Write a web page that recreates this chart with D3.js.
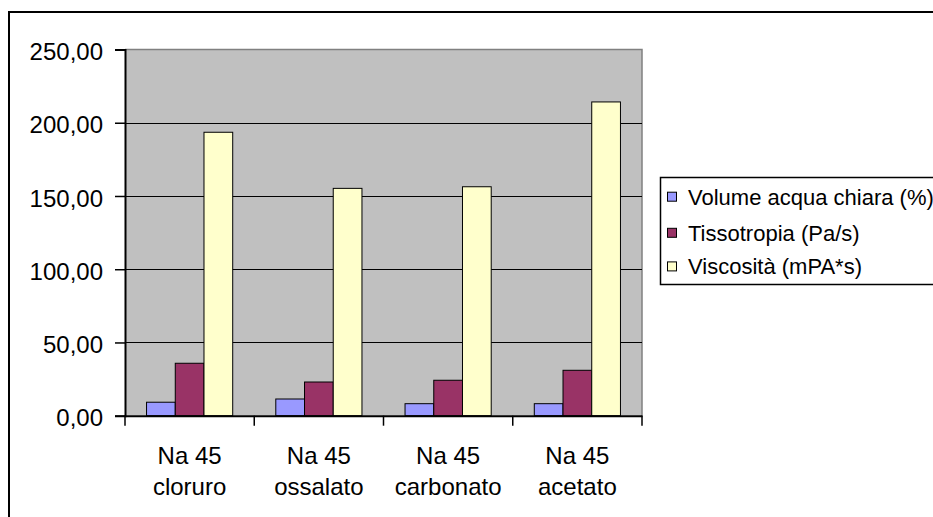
<!DOCTYPE html>
<html>
<head>
<meta charset="utf-8">
<script src="https://cdn.jsdelivr.net/npm/d3@7"></script>
<style>
  html, body { margin: 0; padding: 0; background: #fff; }
  svg { display: block; font-family: Arial, "Liberation Sans", sans-serif; }
</style>
</head>
<body>
<svg id="chart" width="933" height="517"></svg>
<script>
// ---- data ----
const categories = ["Na 45\ncloruro", "Na 45\nossalato", "Na 45\ncarbonato", "Na 45\nacetato"];
const seriesNames = ["Volume acqua chiara (%)", "Tissotropia (Pa/s)", "Viscosità (mPA*s)"];
const volumeAcqua = [9.2, 11.4, 8.2, 8.2];
const tissotropia = [35.8, 23.0, 24.2, 31.0];
const viscosita = [193.5, 155.2, 156.3, 214.2];
const seriesColors = ["#9999FF", "#993366", "#FFFFCC"];
const yTicks = [0, 50, 100, 150, 200, 250];

const seriesValues = [volumeAcqua, tissotropia, viscosita];

const svg = d3.select("#chart");

// outer chart border (extends past the right/bottom edges)
svg.append("rect")
  .attr("x", 9).attr("y", 12)
  .attr("width", 1000).attr("height", 1000)
  .attr("fill", "none").attr("stroke", "#000").attr("stroke-width", 2);

const plot = { left: 125, right: 642, top: 49.5, bottom: 415.7 };

const x = d3.scaleBand().domain(categories).range([plot.left, plot.right]).padding(0);
const xs = d3.scaleBand().domain(seriesNames).range([0, x.bandwidth()])
  .paddingInner(0).paddingOuter(0.75);
const y = d3.scaleLinear().domain([0, 250]).range([plot.bottom, plot.top]);

// plot background
svg.append("rect")
  .attr("x", plot.left).attr("y", plot.top)
  .attr("width", plot.right - plot.left).attr("height", plot.bottom - plot.top)
  .attr("fill", "#C0C0C0");

// top and right border of plot area (grey)
svg.append("path")
  .attr("d", `M${plot.left},${plot.top}H${plot.right}V${plot.bottom}`)
  .attr("fill", "none").attr("stroke", "#808080").attr("stroke-width", 1.5);

// gridlines
svg.append("g").selectAll("line")
  .data(yTicks.filter(t => t > 0 && t < 250))
  .join("line")
  .attr("x1", plot.left).attr("x2", plot.right)
  .attr("y1", d => Math.round(y(d)) + 0.5).attr("y2", d => Math.round(y(d)) + 0.5)
  .attr("stroke", "#000").attr("stroke-width", 1);

// bars
const groups = svg.append("g").selectAll("g")
  .data(categories)
  .join("g")
  .attr("transform", d => `translate(${x(d)},0)`);

groups.selectAll("rect")
  .data((c, ci) => seriesNames.map((s, si) => ({ s, si, v: seriesValues[si][ci] })))
  .join("rect")
  .attr("x", d => xs(d.s))
  .attr("width", xs.bandwidth())
  .attr("y", d => y(d.v))
  .attr("height", d => y(0) - y(d.v))
  .attr("fill", d => seriesColors[d.si])
  .attr("stroke", "#000").attr("stroke-width", 1);

// y axis
const locale = d3.formatLocale({ decimal: ",", thousands: ".", grouping: [3], currency: ["", "€"] });
const fmt = locale.format(".2f");
const yAxis = svg.append("g")
  .attr("transform", `translate(${plot.left},0)`)
  .call(d3.axisLeft(y).tickValues(yTicks).tickFormat(fmt).tickSize(10).tickPadding(12));
yAxis.select(".domain").attr("stroke", "#000").attr("stroke-width", 2);
yAxis.selectAll(".tick line").attr("stroke", "#000").attr("stroke-width", 1.5);
yAxis.selectAll(".tick text")
  .attr("fill", "#000").attr("font-size", 24).attr("dy", "0.42em")
  .style("font-family", "Arial, 'Liberation Sans', sans-serif");

// x axis
const xAxis = svg.append("g")
  .attr("transform", `translate(0,${plot.bottom})`)
  .call(d3.axisBottom(x).tickSize(0).tickFormat(""));
xAxis.select(".domain").attr("stroke", "#000").attr("stroke-width", 2);
xAxis.selectAll(".tick").remove();

// category boundary ticks
const boundaries = categories.map(c => x(c)).concat([x(categories[categories.length - 1]) + x.bandwidth()]);
svg.append("g").selectAll("line")
  .data(boundaries)
  .join("line")
  .attr("x1", d => d).attr("x2", d => d)
  .attr("y1", plot.bottom).attr("y2", plot.bottom + 10)
  .attr("stroke", "#000").attr("stroke-width", 1.5);

// category labels (two lines)
const catLabels = svg.append("g").selectAll("text")
  .data(categories)
  .join("text")
  .attr("x", d => x(d) + x.bandwidth() / 2)
  .attr("y", 463.5)
  .attr("text-anchor", "middle")
  .attr("font-size", 24)
  .attr("fill", "#000");
catLabels.selectAll("tspan")
  .data(d => d.split("\n"))
  .join("tspan")
  .attr("x", function () { return d3.select(this.parentNode).attr("x"); })
  .attr("dy", (d, i) => i === 0 ? 0 : 31.5)
  .text(d => d);

// legend
const legend = svg.append("g");
legend.append("rect")
  .attr("x", 660.5).attr("y", 177.5)
  .attr("width", 400).attr("height", 107)
  .attr("fill", "#fff").attr("stroke", "#000").attr("stroke-width", 1.5);

const rowCenters = [196.7, 232.8, 266.4];
const items = legend.selectAll("g.item")
  .data(seriesNames)
  .join("g").attr("class", "item");
items.append("rect")
  .attr("x", 667.5)
  .attr("y", (d, i) => rowCenters[i] - 4.5)
  .attr("width", 9).attr("height", 9)
  .attr("fill", (d, i) => seriesColors[i])
  .attr("stroke", "#000").attr("stroke-width", 1);
items.append("text")
  .attr("x", 688)
  .attr("y", (d, i) => rowCenters[i] + 7.9)
  .attr("font-size", 22)
  .attr("fill", "#000")
  .text(d => d);
</script>
</body>
</html>
